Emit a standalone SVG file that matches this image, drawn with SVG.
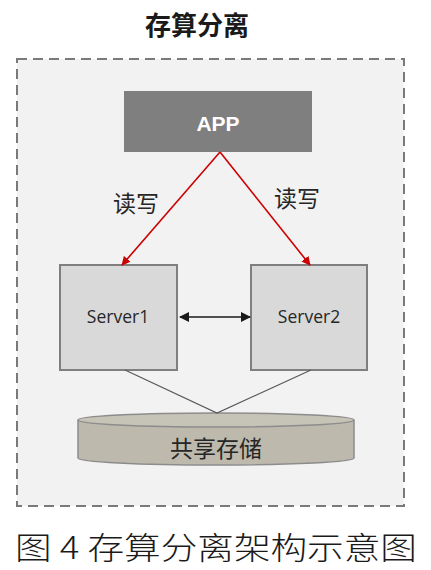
<svg xmlns="http://www.w3.org/2000/svg" width="431" height="570" viewBox="0 0 431 570">
<defs>
<style>
.cjk{font-family:"Noto Sans CJK SC","Noto Sans",sans-serif;}
.lbl{font-family:"Noto Sans CJK SC",sans-serif;font-size:23px;fill:#262626;text-anchor:middle;}
.srv{fill:#d9d9d9;stroke:#7f7f7f;stroke-width:2;}
.srvt{font-family:"Open Sans","Noto Sans",sans-serif;font-size:17.5px;fill:#262626;text-anchor:middle;}
.red{stroke:#cc0000;stroke-width:1.6;fill:none;}
</style>
<marker id="ra" viewBox="0 0 10 10" refX="9" refY="5" markerWidth="9" markerHeight="9" markerUnits="userSpaceOnUse" orient="auto">
<path d="M0,0 L10,5 L0,10 z" fill="#cc0000"/>
</marker>
<marker id="ba" viewBox="0 0 10 10" refX="9" refY="5" markerWidth="10" markerHeight="10" markerUnits="userSpaceOnUse" orient="auto-start-reverse">
<path d="M0,0 L10,5 L0,10 z" fill="#1a1a1a"/>
</marker>
</defs>
<rect width="431" height="570" fill="#ffffff"/>
<text x="197" y="35" class="cjk" font-size="26" font-weight="bold" fill="#1a1a1a" text-anchor="middle">存算分离</text>
<g id="frame">
<rect x="17" y="59" width="387" height="447" fill="#f2f2f2" stroke="#7a7a7a" stroke-width="2" stroke-dasharray="10,6"/>
</g>
<g id="app">
<rect x="124" y="91" width="188" height="61" fill="#7f7f7f"/>
<text x="218" y="131" font-family="Liberation Sans, Arial, sans-serif" font-size="21" font-weight="bold" fill="#ffffff" text-anchor="middle">APP</text>
</g>
<g id="server1">
<rect x="60" y="265" width="117" height="105" class="srv"/>
<text x="118" y="323" class="srvt">Server1</text>
</g>
<g id="server2">
<rect x="251" y="265" width="116" height="105" class="srv"/>
<text x="309" y="323" class="srvt">Server2</text>
</g>
<g id="storage">
<path d="M78,420 L78,458 A138,7 0 0 0 354,458 L354,420" fill="#bdbaad" stroke="#8c8c8c" stroke-width="1.5"/>
<ellipse cx="216" cy="420" rx="138" ry="7" fill="#c6c3b7" stroke="#8c8c8c" stroke-width="1.5"/>
<text x="216" y="457" class="lbl" font-size="24">共享存储</text>
</g>
<g id="connectors">
<line x1="220" y1="152" x2="122" y2="265" class="red" marker-end="url(#ra)"/>
<line x1="220" y1="152" x2="310" y2="265" class="red" marker-end="url(#ra)"/>
<line x1="180" y1="317" x2="250" y2="317" stroke="#1a1a1a" stroke-width="1.5" marker-start="url(#ba)" marker-end="url(#ba)"/>
<polyline points="125,370 217,413 311,370" fill="none" stroke="#595959" stroke-width="1.2"/>
</g>
<g id="labels">
<text x="136" y="212" class="lbl">读写</text>
<text x="297" y="207" class="lbl">读写</text>
</g>
<text x="216" y="559" font-family="Noto Sans CJK SC, serif" font-weight="300" font-size="31" fill="#1a1a1a" text-anchor="middle" textLength="402" lengthAdjust="spacingAndGlyphs">图 4 存算分离架构示意图</text>
</svg>
